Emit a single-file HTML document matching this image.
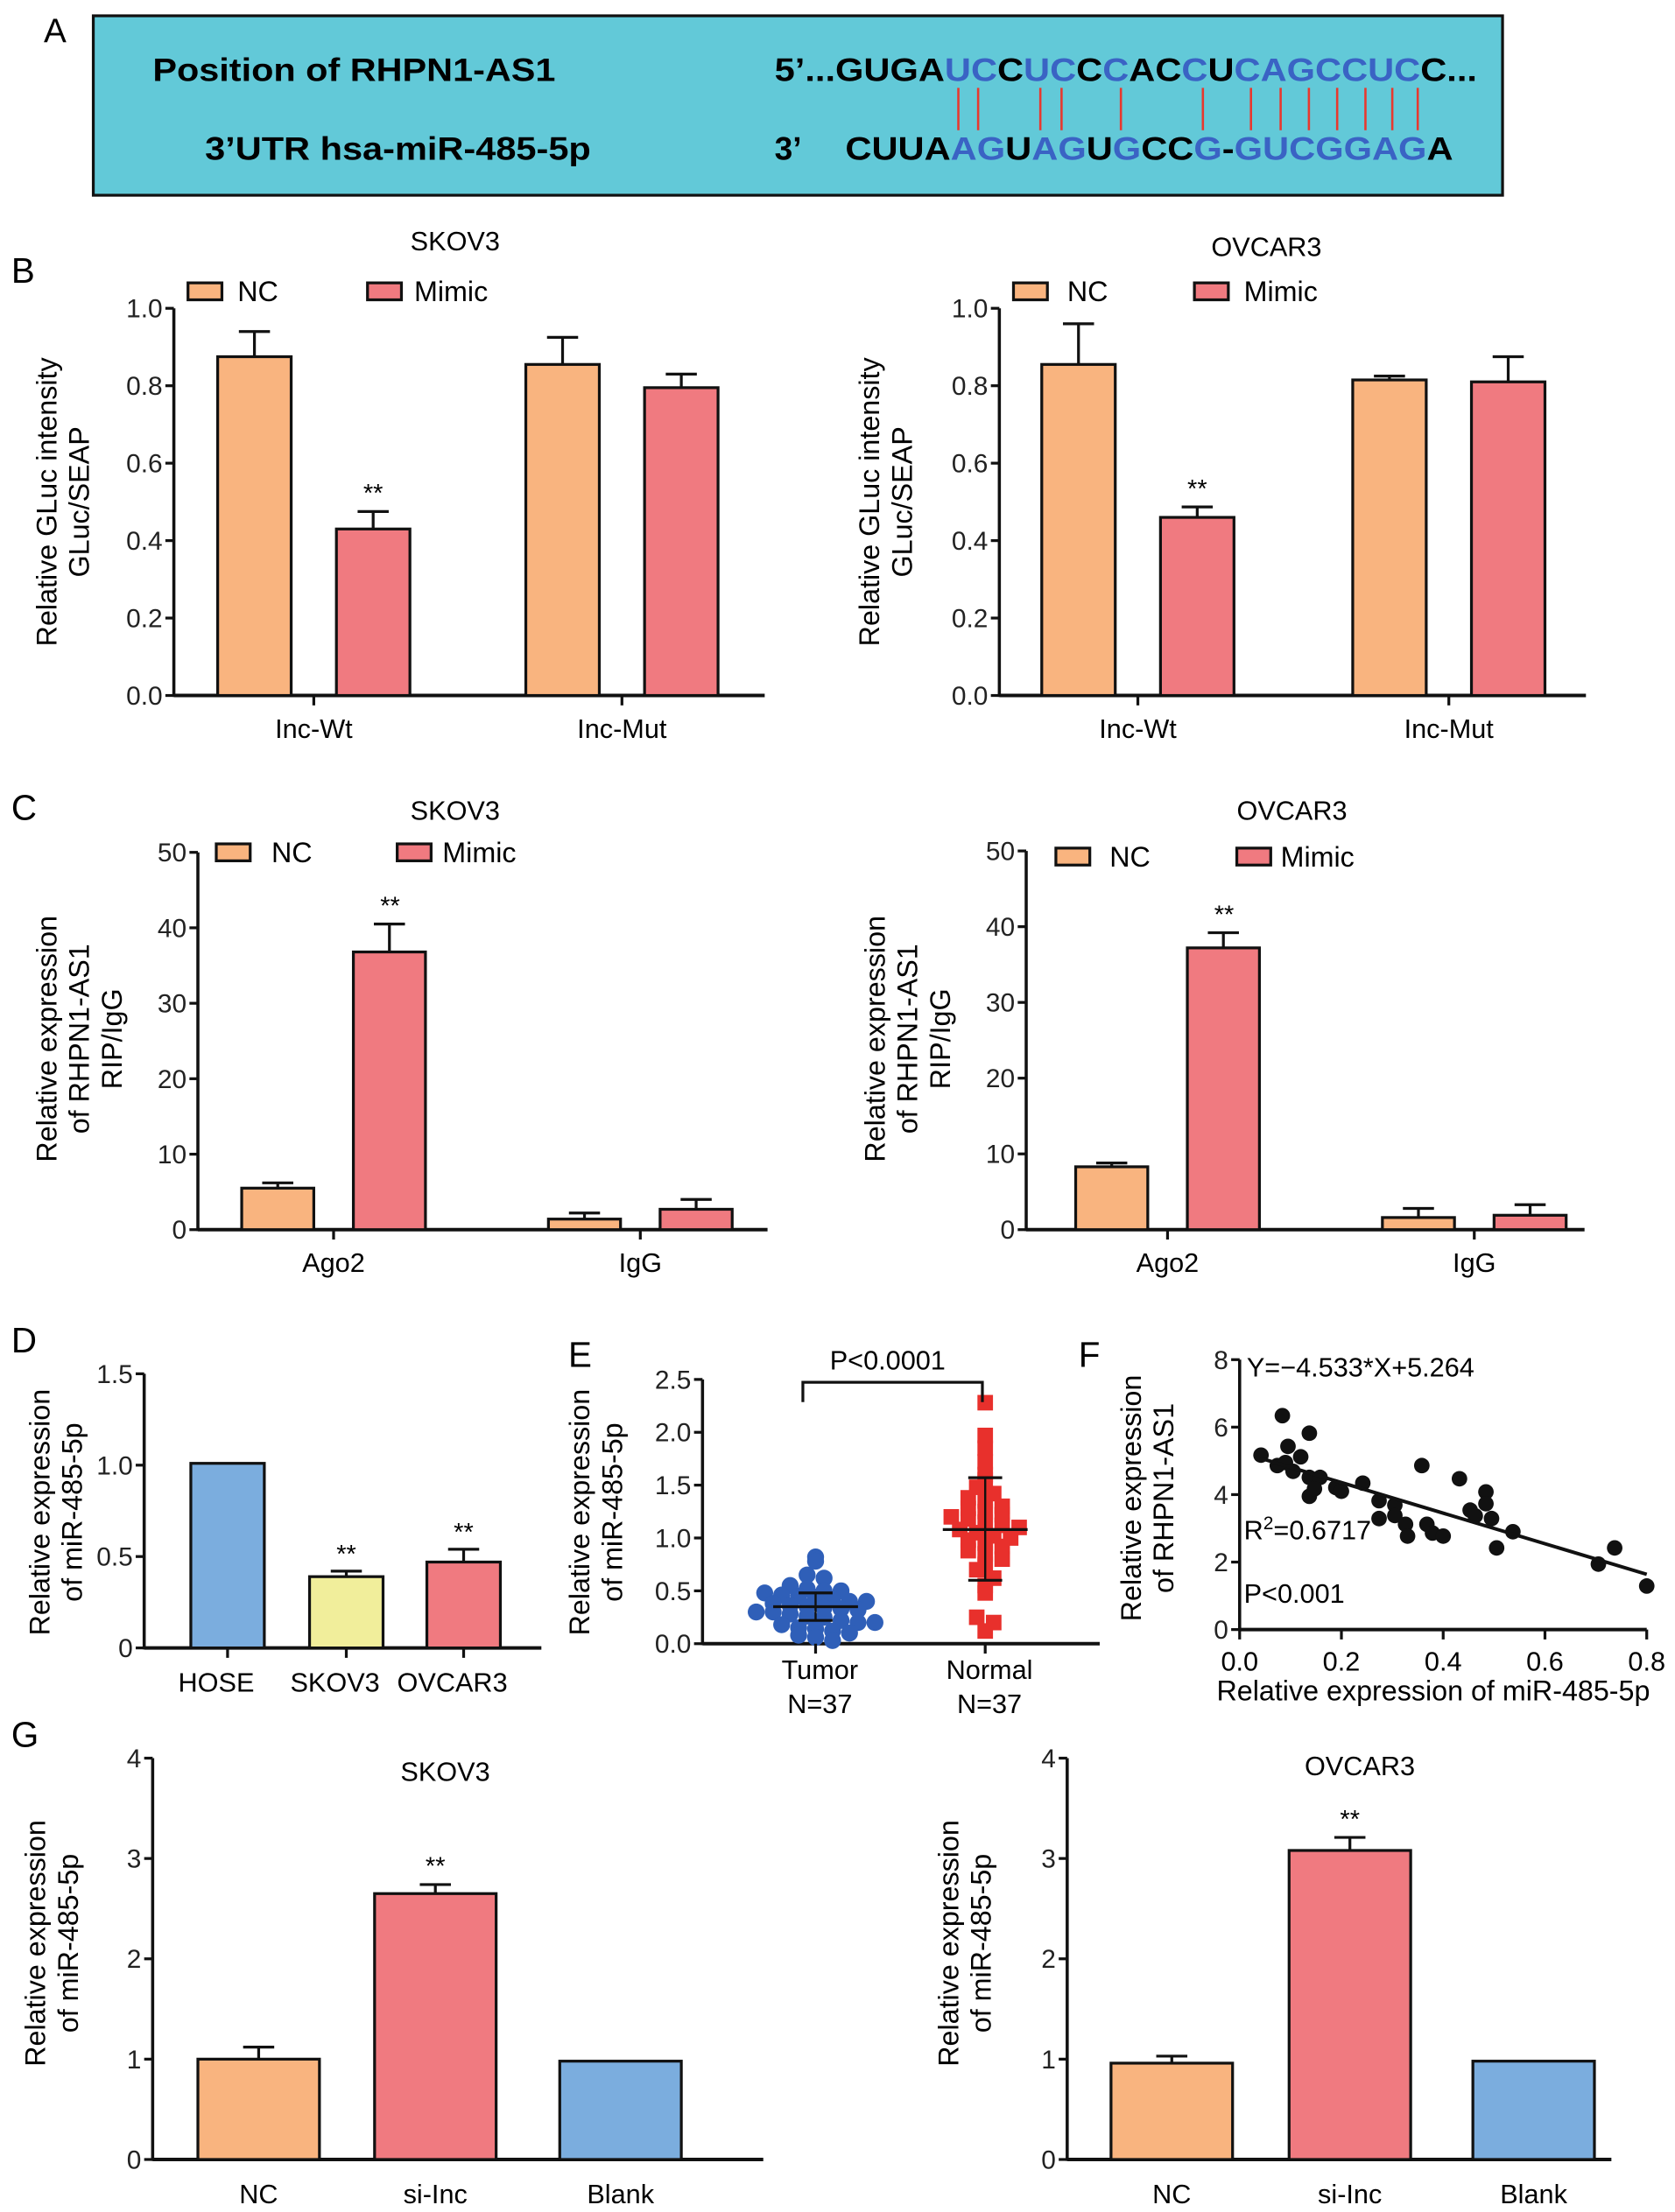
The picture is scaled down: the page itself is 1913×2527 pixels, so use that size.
<!DOCTYPE html>
<html><head><meta charset="utf-8">
<style>
html,body{margin:0;padding:0;background:#fff;}
svg{display:block;font-family:"Liberation Sans",Arial,sans-serif;}
</style></head>
<body>
<svg id="fig" width="1913" height="2527" viewBox="0 0 1185 1565" xmlns="http://www.w3.org/2000/svg">
<g>
<text x="31" y="30" font-size="24">A</text>
<rect x="66" y="11" width="997" height="127" fill="#62c9d8" stroke="#111" stroke-width="2"/>
<text x="108" y="57" font-size="23" font-weight="bold" textLength="285" lengthAdjust="spacingAndGlyphs">Position of RHPN1-AS1</text>
<text x="145" y="113" font-size="23" font-weight="bold" textLength="273" lengthAdjust="spacingAndGlyphs">3’UTR hsa-miR-485-5p</text>
<text x="548" y="57" font-size="23" font-weight="bold" textLength="497" lengthAdjust="spacingAndGlyphs">5’...GUGA<tspan fill="#3a63c4">UC</tspan>C<tspan fill="#3a63c4">UC</tspan>C<tspan fill="#3a63c4">C</tspan>AC<tspan fill="#3a63c4">C</tspan>U<tspan fill="#3a63c4">CAGCCUC</tspan>C...</text>
<text x="548" y="113" font-size="23" font-weight="bold">3’</text>
<text x="598" y="113" font-size="23" font-weight="bold" textLength="430" lengthAdjust="spacingAndGlyphs">CUUA<tspan fill="#3a63c4">AG</tspan>U<tspan fill="#3a63c4">AG</tspan>U<tspan fill="#3a63c4">G</tspan>CC<tspan fill="#3a63c4">G</tspan>-<tspan fill="#3a63c4">GUCGGAG</tspan>A</text>
<g id="pairs"></g>
</g>
<g id="charts"></g>
</svg>
<script>
const NS="http://www.w3.org/2000/svg";
const svg=document.getElementById('charts');
function el(tag,attrs,parent,txt){const e=document.createElementNS(NS,tag);for(const k in attrs)e.setAttribute(k,attrs[k]);if(txt!==undefined)e.textContent=txt;(parent||svg).appendChild(e);return e;}
const C_NC="#f9b47f",C_MI="#f07a80",C_BL="#7badde",C_YE="#f1ee9b";
const TFS=18.5;

const pairX=[678,692,736,751,793,851,885,906,926,946,966,985,1003];
const pg=document.getElementById('pairs');
pairX.forEach(x=>{const l=el('line',{x1:x,x2:x,y1:62,y2:92,stroke:'#e8382e','stroke-width':1.6},pg);

});

// ---- Data ----
const bCats=["Inc-Wt","Inc-Mut"];
const bSkovNC=[0.875,0.855], bSkovNCErr=[0.94,0.925];
const bSkovMi=[0.43,0.795], bSkovMiErr=[0.475,0.83];
const bOvNC=[0.855,0.815], bOvNCErr=[0.96,0.825];
const bOvMi=[0.46,0.81], bOvMiErr=[0.487,0.875];
const bTicks=["0.0","0.2","0.4","0.6","0.8","1.0"];
const cCats=["Ago2","IgG"];
const cSkovNC=[5.5,1.4], cSkovNCErr=[6.2,2.2];
const cSkovMi=[36.8,2.7], cSkovMiErr=[40.5,4.0];
const cOvNC=[8.3,1.6], cOvNCErr=[8.8,2.8];
const cOvMi=[37.2,1.9], cOvMiErr=[39.2,3.3];
const cTicks=["0","10","20","30","40","50"];
const dCats=["HOSE","SKOV3","OVCAR3"];
const dVals=[1.01,0.39,0.47], dErr=[1.01,0.42,0.54];
const dTicks=["0","0.5","1.0","1.5"];
const eTumor=[0.82,0.78,0.65,0.62,0.55,0.52,0.5,0.5,0.48,0.46,0.45,0.44,0.42,0.4,0.4,0.38,0.36,0.35,0.34,0.33,0.32,0.3,0.3,0.28,0.26,0.25,0.22,0.2,0.2,0.18,0.15,0.14,0.12,0.1,0.08,0.06,0.03];
const eNormal=[2.28,1.97,1.85,1.72,1.6,1.55,1.48,1.42,1.38,1.35,1.3,1.28,1.25,1.22,1.2,1.18,1.15,1.12,1.1,1.08,1.05,1.02,1.0,0.98,0.95,0.92,0.88,0.85,0.8,0.75,0.7,0.62,0.55,0.48,0.25,0.2,0.12];
const eMeans=[0.35,1.08], eSdLo=[0.22,0.6], eSdHi=[0.48,1.57];
const eTicks=["0.0","0.5","1.0","1.5","2.0","2.5"];
const fX=[0.042,0.084,0.095,0.074,0.12,0.137,0.105,0.137,0.158,0.137,0.147,0.189,0.242,0.274,0.305,0.305,0.326,0.33,0.358,0.368,0.379,0.4,0.432,0.453,0.463,0.484,0.484,0.495,0.505,0.537,0.705,0.737,0.8,0.274,0.2,0.09];
const fY=[5.17,6.34,5.43,4.86,5.12,5.82,4.69,4.51,4.51,3.95,4.17,4.21,4.34,3.82,3.69,3.38,3.12,2.77,4.86,3.12,2.86,2.77,4.47,3.54,3.37,4.08,3.73,3.29,2.42,2.9,1.94,2.42,1.29,3.29,4.1,4.95];
const fSlope=-4.533, fIntercept=5.264;
const fXTicks=["0.0","0.2","0.4","0.6","0.8"], fYTicks=["0","2","4","6","8"];
const gCats=["NC","si-Inc","Blank"];
const gSkov=[1.0,2.65,0.98], gSkovErr=[1.12,2.74,0.98];
const gOv=[0.96,3.08,0.98], gOvErr=[1.03,3.21,0.98];
const gTicks=["0","1","2","3","4"];

function yAxis(g,x,y0,y1,ticks,max){
  const a=el('line',{x1:x,x2:x,y1:y0+1,y2:y1,stroke:'#111','stroke-width':2.2},g);
  
  ticks.forEach(t=>{const v=parseFloat(t);const y=y0-(y0-y1)*v/max;
    el('line',{x1:x-6,x2:x,y1:y,y2:y,stroke:'#111','stroke-width':2},g);
    const tx=el('text',{x:x-8,y:y+6.5,'font-size':TFS,'text-anchor':'end',fill:'#222'},g,t);
    });
}
function ylabel(g,x,cy,lines,fs){lines.forEach((s,i)=>{const t=el('text',{x:0,y:0,'font-size':fs||19,'text-anchor':'middle',transform:`translate(${x+i*23},${cy}) rotate(-90)`},g,s);
});}
function bar(g,x0,x1,yBase,yTop,yErr,color,name){
  const r=el('rect',{x:x0,y:yTop,width:x1-x0,height:yBase-yTop,fill:color,stroke:'#111','stroke-width':2},g);
  
  if(yErr<yTop-0.5){const cx=(x0+x1)/2;el('line',{x1:cx,x2:cx,y1:yTop,y2:yErr,stroke:'#111','stroke-width':2},g);
    el('line',{x1:cx-11,x2:cx+11,y1:yErr,y2:yErr,stroke:'#111','stroke-width':2},g);}
}
function legend(g,items,y){items.forEach(it=>{const r=el('rect',{x:it.bx,y:y-6,width:24,height:12,fill:it.c,stroke:'#111','stroke-width':2},g);

const t=el('text',{x:it.tx,y:y+7,'font-size':20},g,it.t);});}

function groupedChart(o){
  const g=el('g',{});
  
  const sy=v=>o.y0-(o.y0-o.y1)*v/o.max;
  yAxis(g,o.ax,o.y0,o.y1,o.ticks,o.max);
  const xa=el('line',{x1:o.ax,x2:o.xEnd,y1:o.y0,y2:o.y0,stroke:'#111','stroke-width':2.5},g);
  
  o.cats.forEach((c,i)=>{
    const cx=o.cx[i];
    bar(g,cx-o.gap-o.bw,cx-o.gap,o.y0,sy(o.nc[i]),sy(o.ncErr[i]),C_NC,'bar-nc-'+c.toLowerCase());
    bar(g,cx+o.gap,cx+o.gap+o.bw,o.y0,sy(o.mi[i]),sy(o.miErr[i]),C_MI,'bar-mimic-'+c.toLowerCase());
    el('line',{x1:cx,x2:cx,y1:o.y0,y2:o.y0+7,stroke:'#111','stroke-width':2},g);
    const t=el('text',{x:cx,y:o.y0+30,'font-size':19,'text-anchor':'middle'},g,c);
    
    if(o.star[i]){const s=el('text',{x:cx+o.gap+o.bw/2,y:sy(o.miErr[i])-7,'font-size':18,'text-anchor':'middle'},g,'**');
      }
  });
  const tt=el('text',{x:o.titleX,y:o.titleY,'font-size':19,'text-anchor':'middle'},g,o.title);
  
  legend(g,o.legend,o.legY);
  ylabel(g,o.ylx,o.ylcy,o.ylab,20);
}
[['B',8,200],['C',8,580],['D',8,957],['E',402,967],['F',763,967],['G',8,1236]].forEach(p=>{const t=el('text',{x:p[1],y:p[2],'font-size':25},svg,p[0]);
});

groupedChart({name:'chart-b-skov3',ax:123,xEnd:541,y0:492,y1:218,max:1,ticks:bTicks,cats:bCats,cx:[222,440],gap:16,bw:52,
 nc:bSkovNC,ncErr:bSkovNCErr,mi:bSkovMi,miErr:bSkovMiErr,star:[1,0],title:'SKOV3',titleX:322,titleY:177,
 legend:[{bx:133,tx:168,c:C_NC,t:'NC'},{bx:260,tx:293,c:C_MI,t:'Mimic'}],legY:206,ylx:40,ylcy:355,ylab:['Relative GLuc intensity','GLuc/SEAP']});
groupedChart({name:'chart-b-ovcar3',ax:707,xEnd:1122,y0:492,y1:218,max:1,ticks:bTicks,cats:bCats,cx:[805,1025],gap:16,bw:52,
 nc:bOvNC,ncErr:bOvNCErr,mi:bOvMi,miErr:bOvMiErr,star:[1,0],title:'OVCAR3',titleX:896,titleY:181,
 legend:[{bx:717,tx:755,c:C_NC,t:'NC'},{bx:845,tx:880,c:C_MI,t:'Mimic'}],legY:206,ylx:622,ylcy:355,ylab:['Relative GLuc intensity','GLuc/SEAP']});
groupedChart({name:'chart-c-skov3',ax:140,xEnd:543,y0:870,y1:603,max:50,ticks:cTicks,cats:cCats,cx:[236,453],gap:14,bw:51,
 nc:cSkovNC,ncErr:cSkovNCErr,mi:cSkovMi,miErr:cSkovMiErr,star:[0,0],title:'SKOV3',titleX:322,titleY:580,
 legend:[{bx:153,tx:192,c:C_NC,t:'NC'},{bx:281,tx:313,c:C_MI,t:'Mimic'}],legY:603,ylx:40,ylcy:735,ylab:['Relative expression','of RHPN1-AS1','RIP/IgG']});
groupedChart({name:'chart-c-ovcar3',ax:726,xEnd:1121,y0:870,y1:602,max:50,ticks:cTicks,cats:cCats,cx:[826,1043],gap:14,bw:51,
 nc:cOvNC,ncErr:cOvNCErr,mi:cOvMi,miErr:cOvMiErr,star:[0,0],title:'OVCAR3',titleX:914,titleY:580,
 legend:[{bx:747,tx:785,c:C_NC,t:'NC'},{bx:875,tx:906,c:C_MI,t:'Mimic'}],legY:606,ylx:626,ylcy:735,ylab:['Relative expression','of RHPN1-AS1','RIP/IgG']});
[[276,40.5,870,603,50],[866,39.2,870,602,50]].forEach(s=>{const y=s[2]-(s[2]-s[3])*s[1]/s[4]-7;const t=el('text',{x:s[0],y:y,'font-size':18,'text-anchor':'middle'},svg,'**');
});

// Panel D
(function(){const g=el('g',{});
 const y0=1166,y1=972,max=1.5;const sy=v=>y0-(y0-y1)*v/max;
 yAxis(g,102,y0,y1,dTicks,max);
 const xa=el('line',{x1:102,x2:383,y1:y0,y2:y0,stroke:'#111','stroke-width':2.5},g);
 const cols=[C_BL,C_YE,C_MI],cx=[161,245,328];
 dCats.forEach((c,i)=>{bar(g,cx[i]-26,cx[i]+26,y0,sy(dVals[i]),sy(dErr[i]),cols[i],'bar-'+c.toLowerCase());
  el('line',{x1:cx[i],x2:cx[i],y1:y0,y2:y0+7,stroke:'#111','stroke-width':2},g);
  const t=el('text',{x:cx[i]-8,y:1197,'font-size':19,'text-anchor':'middle'},g,c);
  if(i>0){const s=el('text',{x:cx[i],y:sy(dErr[i])-6,'font-size':18,'text-anchor':'middle'},g,'**');}});
 ylabel(g,35,1070,['Relative expression','of miR-485-5p'],20);})();

// Panel E
(function(){const g=el('g',{});
 const y0=1163,y1=976,max=2.5;const sy=v=>y0-(y0-y1)*v/max;
 yAxis(g,497,y0,y1,eTicks,max);
 const xa=el('line',{x1:497,x2:778,y1:y0,y2:y0,stroke:'#111','stroke-width':2.5},g);
 const cx=[577,697],sets=[eTumor,eNormal],cols=['#2f5fb8','#e8302c'],names=['Tumor','Normal'];
 sets.forEach((arr,k)=>{
  arr.forEach((v,i)=>{const bin=Math.floor(v/0.1);let same=0,idx=0;arr.forEach((w,j)=>{if(Math.floor(w/0.1)===bin){if(j<i)idx++;same++;}});
   const off=(idx-(same-1)/2)*12;
   if(k===0){const c=el('circle',{cx:cx[k]+off,cy:sy(v),r:6,fill:cols[k]},g);}
   else{const r=el('rect',{x:cx[k]+off-5.5,y:sy(v)-5.5,width:11,height:11,fill:cols[k]},g);}});
  [[eMeans[k],30],[eSdLo[k],12],[eSdHi[k],12]].forEach(m=>el('line',{x1:cx[k]-m[1],x2:cx[k]+m[1],y1:sy(m[0]),y2:sy(m[0]),stroke:'#111','stroke-width':2},g));
  el('line',{x1:cx[k],x2:cx[k],y1:sy(eSdLo[k]),y2:sy(eSdHi[k]),stroke:'#111','stroke-width':1.5},g);
  el('line',{x1:cx[k],x2:cx[k],y1:y0,y2:y0+7,stroke:'#111','stroke-width':2},g);
  const t=el('text',{x:cx[k]+3,y:1188,'font-size':19,'text-anchor':'middle'},g,names[k]);
  const n=el('text',{x:cx[k]+3,y:1212,'font-size':19,'text-anchor':'middle'},g,'N=37');});
 el('path',{d:'M568 992 V978 H695 V992',fill:'none',stroke:'#111','stroke-width':2},g);
 const p=el('text',{x:628,y:969,'font-size':19,'text-anchor':'middle'},g,'P<0.0001');
 ylabel(g,417,1070,['Relative expression','of miR-485-5p'],20);})();

// Panel F
(function(){const g=el('g',{});
 const y0=1153,y1=962,ymax=8,x0=877,x1=1165,xmax=0.8;const sy=v=>y0-(y0-y1)*v/ymax,sx=v=>x0+(x1-x0)*v/xmax;
 yAxis(g,x0,y0,y1,fYTicks,ymax);
 const xa=el('line',{x1:x0,x2:x1,y1:y0,y2:y0,stroke:'#111','stroke-width':2.5},g);
 fXTicks.forEach(t=>{const x=sx(parseFloat(t));el('line',{x1:x,x2:x,y1:y0,y2:y0+7,stroke:'#111','stroke-width':2},g);
  const tx=el('text',{x:x,y:1182,'font-size':19,'text-anchor':'middle'},g,t);});
 fX.forEach((x,i)=>{const c=el('circle',{cx:sx(x),cy:sy(fY[i]),r:5.5,fill:'#111'},g);});
 const lx0=0.04,lx1=0.8;const rl=el('line',{x1:sx(lx0),y1:sy(fSlope*lx0+fIntercept),x2:sx(lx1),y2:sy(fSlope*lx1+fIntercept),stroke:'#111','stroke-width':2.5},g);
 
 const e=el('text',{x:882,y:974,'font-size':19},g,'Y=−4.533*X+5.264');
 const r=el('text',{x:880,y:1089,'font-size':19},g);
 r.innerHTML='R<tspan dy="-7" font-size="13">2</tspan><tspan dy="7">=0.6717</tspan>';
 const p=el('text',{x:880,y:1134,'font-size':19},g,'P<0.001');
 const xl=el('text',{x:1014,y:1203,'font-size':20,'text-anchor':'middle'},g,'Relative expression of miR-485-5p');
 ylabel(g,807,1060,['Relative expression','of RHPN1-AS1'],20);})();

// Panel G
function gChart(name,ax,xEnd,vals,errs,cx,title,tx,ty,ylx){const g=el('g',{});
 const y0=1528,y1=1244,max=4;const sy=v=>y0-(y0-y1)*v/max;
 yAxis(g,ax,y0,y1,gTicks,max);
 const xa=el('line',{x1:ax,x2:xEnd,y1:y0,y2:y0,stroke:'#111','stroke-width':2.5},g);
 const cols=[C_NC,C_MI,C_BL];
 gCats.forEach((c,i)=>{bar(g,cx[i]-43,cx[i]+43,y0,sy(vals[i]),sy(errs[i]),cols[i],'bar-'+c.toLowerCase());
  const t=el('text',{x:cx[i],y:1559,'font-size':19,'text-anchor':'middle'},g,c);
  if(i===1){const s=el('text',{x:cx[i],y:sy(errs[i])-7,'font-size':18,'text-anchor':'middle'},g,'**');}});
 const t=el('text',{x:tx,y:ty,'font-size':19,'text-anchor':'middle'},g,title);
 ylabel(g,ylx,1375,['Relative expression','of miR-485-5p'],20);}
gChart('chart-g-skov3',108,540,gSkov,gSkovErr,[183,308,439],'SKOV3',315,1260,32);
gChart('chart-g-ovcar3',755,1140,gOv,gOvErr,[829,955,1085],'OVCAR3',962,1256,678);
</script>
</body></html>
